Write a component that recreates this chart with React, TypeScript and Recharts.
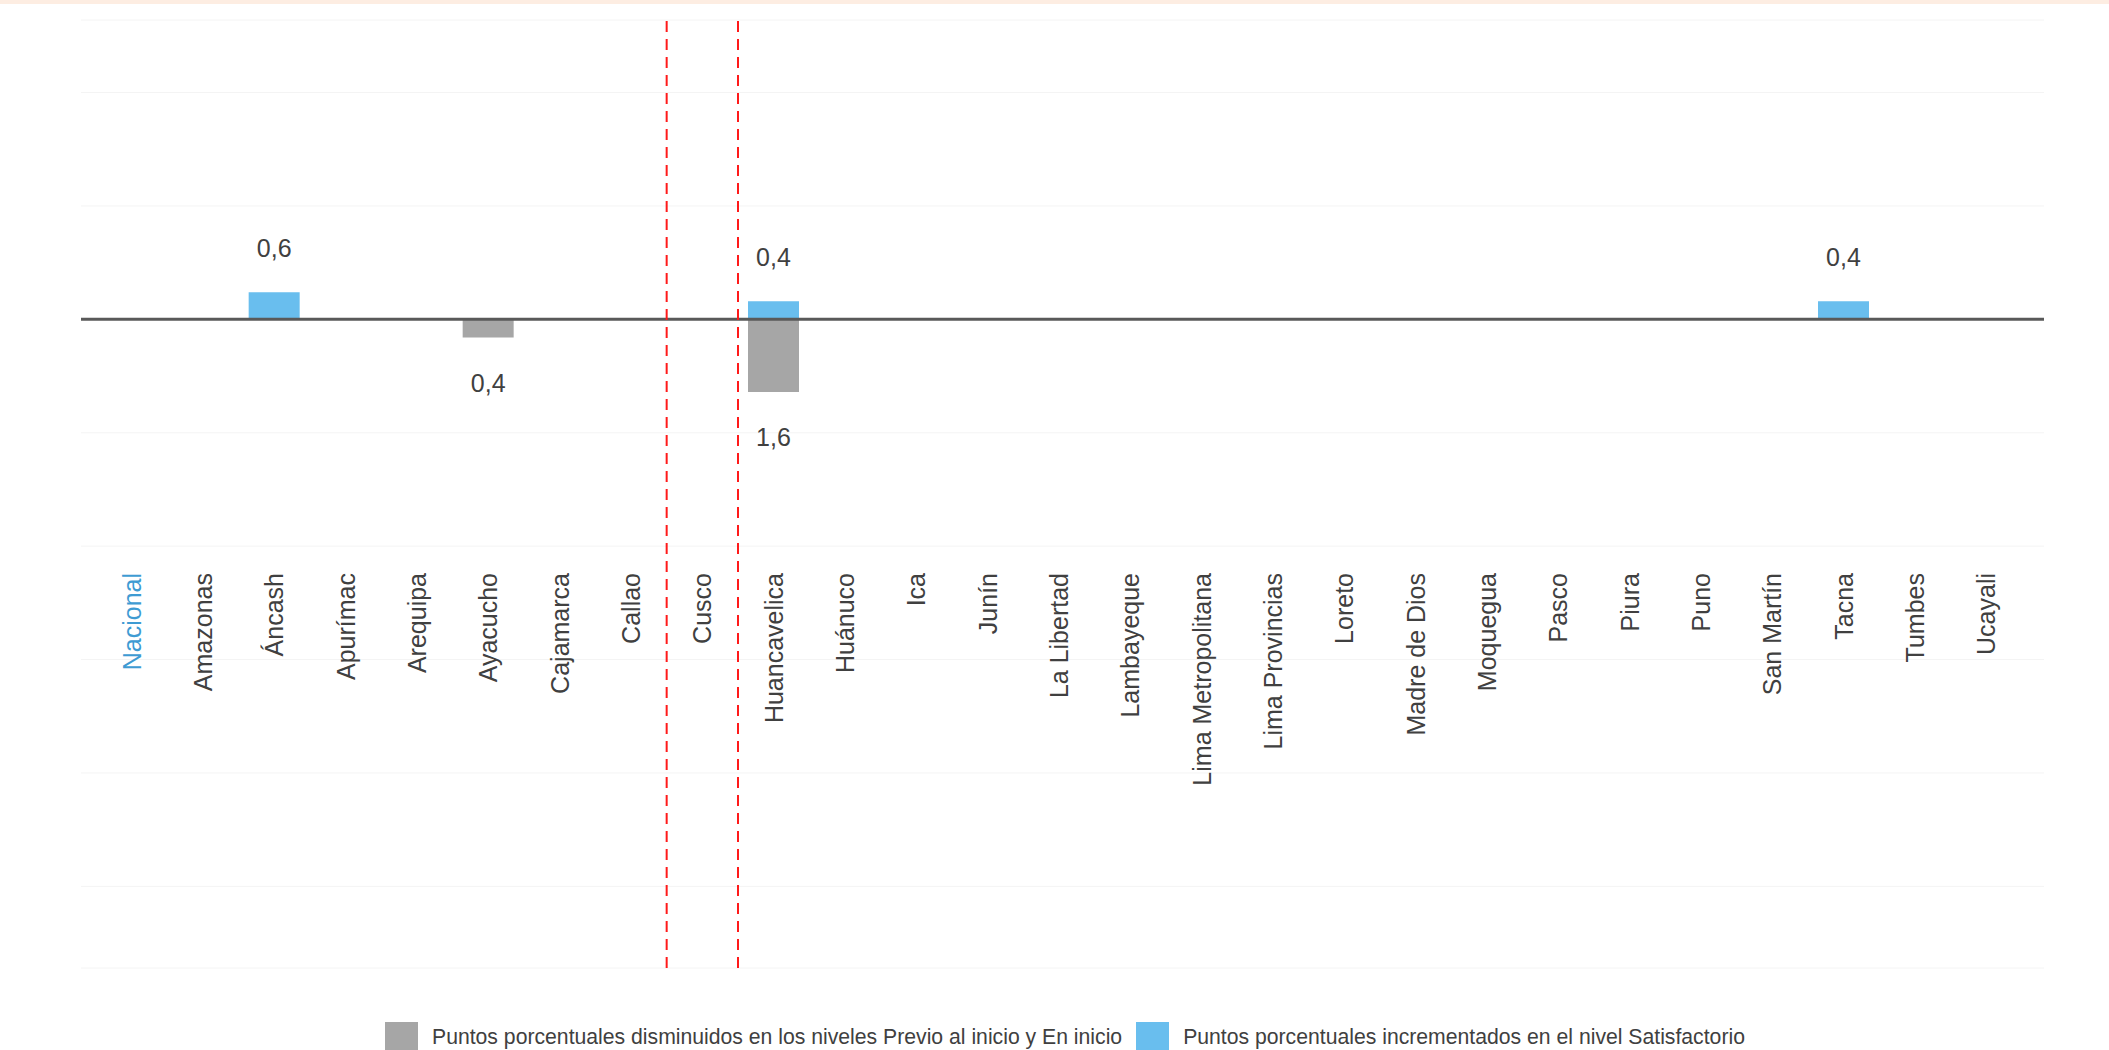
import React from "react";
import {
  BarChart,
  Bar,
  XAxis,
  YAxis,
  CartesianGrid,
  ReferenceLine,
  LabelList,
  Legend,
} from "recharts";

const categories = [
  "Nacional", "Amazonas", "Áncash", "Apurímac", "Arequipa", "Ayacucho", "Cajamarca",
  "Callao", "Cusco", "Huancavelica", "Huánuco", "Ica", "Junín", "La Libertad",
  "Lambayeque", "Lima Metropolitana", "Lima Provincias", "Loreto", "Madre de Dios",
  "Moquegua", "Pasco", "Piura", "Puno", "San Martín", "Tacna", "Tumbes", "Ucayali",
];

// Puntos porcentuales disminuidos (shown below zero)
const decreased: (number | null)[] = [
  null, null, null, null, null, -0.4, null, null, null, -1.6, null, null, null, null,
  null, null, null, null, null, null, null, null, null, null, null, null, null,
];

// Puntos porcentuales incrementados (shown above zero)
const increased: (number | null)[] = [
  null, null, 0.6, null, null, null, null, null, null, 0.4, null, null, null, null,
  null, null, null, null, null, null, null, null, null, null, 0.4, null, null,
];

const seriesNames = [
  "Puntos porcentuales disminuidos en los niveles Previo al inicio y En inicio",
  "Puntos porcentuales incrementados en el nivel Satisfactorio",
];

const yTicks = [5, 2.5, 0, -2.5, -5, -7.5, -10, -12.5];
const highlightCategory = "Cusco";

const data = categories.map((name, i) => ({
  name,
  dec: decreased[i],
  inc: increased[i],
}));

const FONT = '"Liberation Sans", Arial, Helvetica, sans-serif';
const GRAY = "#A6A6A6";
const BLUE = "#69BEEE";
const TEXT = "#404040";
const NAT_BLUE = "#3E9BD3";
const LABEL_TOP = 573;

const fmt = (v: number) => Math.abs(v).toFixed(1).replace(".", ",");

const CategoryTick = (props: any) => {
  const { x, payload } = props;
  const isNat = payload.value === "Nacional";
  return (
    <text
      x={0}
      y={0}
      transform={`translate(${x},${LABEL_TOP}) rotate(-90)`}
      textAnchor="end"
      dominantBaseline="central"
      fontSize={25}
      fontFamily={FONT}
      fill={isNat ? NAT_BLUE : TEXT}
    >
      {payload.value}
    </text>
  );
};

const makeLabel = (positive: boolean) => (props: any) => {
  const { x, y, width, height, value } = props;
  const arr = Array.isArray(value) ? value : [value];
  const v = arr.find((n: any) => typeof n === "number" && n !== 0);
  if (v == null || x == null || y == null) return null;
  const top = Math.min(y, y + height);
  const bottom = Math.max(y, y + height);
  const cx = x + width / 2;
  const ty = positive ? top - 35 : bottom + 54;
  return (
    <text x={cx} y={ty} textAnchor="middle" fontSize={25} fontFamily={FONT} fill={TEXT}>
      {fmt(v)}
    </text>
  );
};

const LegendContent = (props: any) => {
  const { payload } = props;
  return (
    <div style={{ display: "flex", alignItems: "center", fontFamily: FONT }}>
      {(payload || []).map((p: any, i: number) => (
        <div key={i} style={{ display: "flex", alignItems: "center", marginRight: 14 }}>
          <div style={{ width: 33, height: 30, background: p.color, marginRight: 14 }} />
          <span style={{ fontSize: 21.2, color: TEXT, whiteSpace: "nowrap" }}>{p.value}</span>
        </div>
      ))}
    </div>
  );
};

export default function App() {
  return (
    <div style={{ position: "absolute", left: 0, top: 0, width: 2109, height: 1050, background: "#fff" }}>
      <BarChart
        width={2109}
        height={1050}
        data={data}
        stackOffset="sign"
        margin={{ top: 20, right: 65, left: 81, bottom: 81 }}
      >
        <CartesianGrid vertical={false} stroke="#f4f4f4" strokeWidth={1} />
        <XAxis
          dataKey="name"
          height={1}
          interval={0}
          axisLine={false}
          tickLine={false}
          tick={CategoryTick}
          padding={{ left: 15, right: 22 }}
        />
        <YAxis hide domain={[-14.3, 6.6]} ticks={yTicks} allowDataOverflow />
        <Bar dataKey="dec" name={seriesNames[0]} stackId="s" fill={GRAY} barSize={51} isAnimationActive={false}>
          <LabelList dataKey="dec" content={makeLabel(false)} />
        </Bar>
        <Bar dataKey="inc" name={seriesNames[1]} stackId="s" fill={BLUE} barSize={51} isAnimationActive={false}>
          <LabelList dataKey="inc" content={makeLabel(true)} />
        </Bar>
        <ReferenceLine y={0} stroke="#595959" strokeWidth={3} />
        <ReferenceLine x={highlightCategory} position="start" stroke="#FF1A1A" strokeWidth={2} strokeDasharray="11 7" />
        <ReferenceLine x={highlightCategory} position="end" stroke="#FF1A1A" strokeWidth={2} strokeDasharray="11 7" />
        <Legend
          layout="horizontal"
          verticalAlign="middle"
          align="center"
          content={LegendContent}
          wrapperStyle={{ top: 1022, left: 385, width: "auto", height: 30 }}
        />
      </BarChart>
      <div style={{ position: "absolute", left: 0, top: 0, width: 2109, height: 4, background: "#FDEDE2" }} />
    </div>
  );
}
